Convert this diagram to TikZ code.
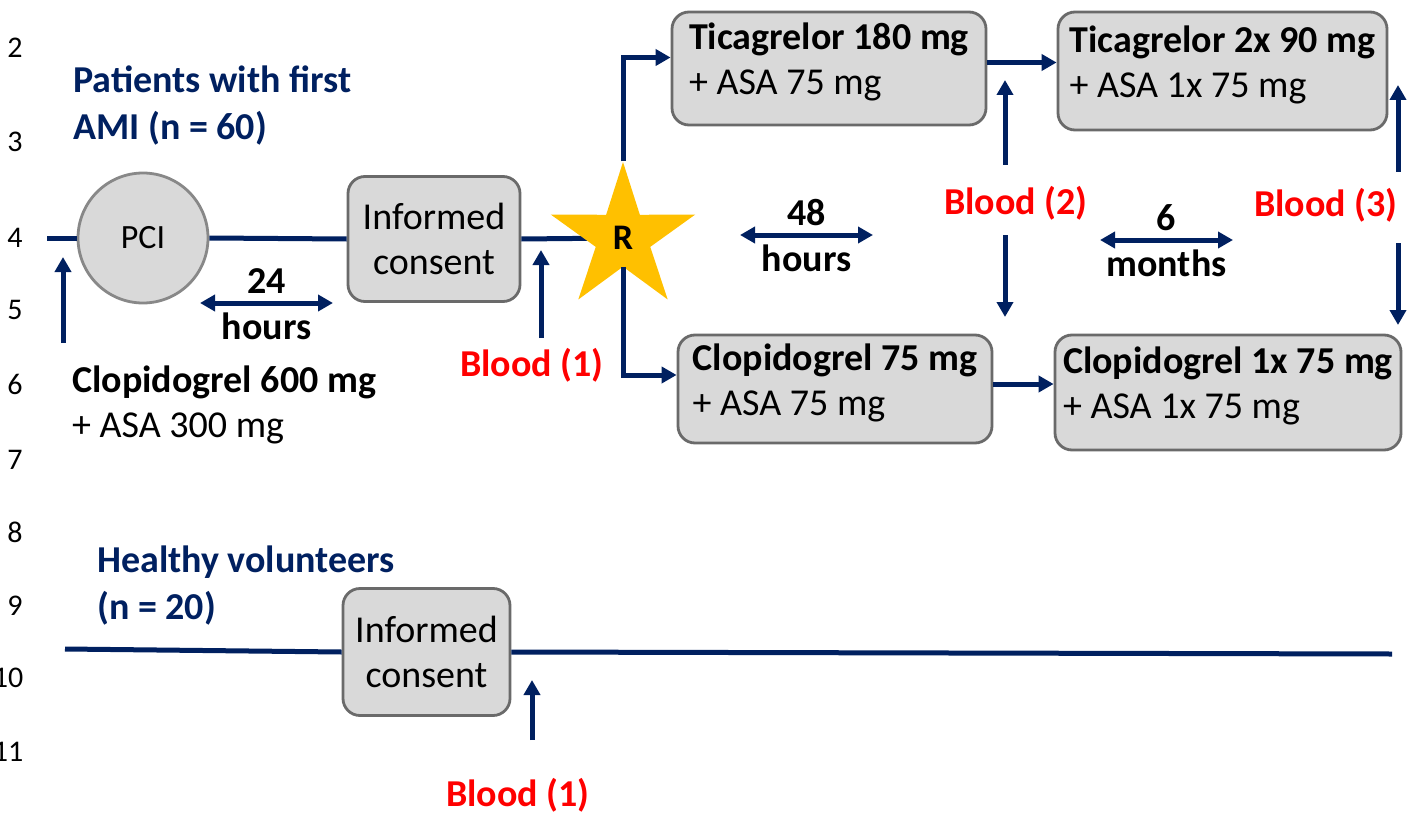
\documentclass[tikz,border=0pt]{standalone}
\usepackage{fontspec}
\setmainfont{Carlito}
\usetikzlibrary{arrows.meta,shapes.geometric,positioning}
\definecolor{NAVY}{HTML}{002060}
\definecolor{RED}{HTML}{FF0000}
\definecolor{BOX}{HTML}{D9D9D9}
\definecolor{EDGE}{HTML}{6A6A6A}
\definecolor{GOLD}{HTML}{FFC000}
\begin{document}
\begin{tikzpicture}[x=1pt,y=-1pt,font=\fontsize{38}{45}\selectfont]
\tikzset{flow/.style={line width=5pt,NAVY},
 arr/.style={flow,-{Triangle[length=15pt,width=16pt]}},
 dbl/.style={flow,{Triangle[length=15pt,width=16pt]}-{Triangle[length=15pt,width=16pt]}},
 box/.style={draw=EDGE,fill=BOX,line width=2.8pt,rounded corners=17pt,align=flush left,inner sep=0pt,text depth=19pt},
 consent/.style={draw=EDGE,fill=BOX,line width=2.8pt,rounded corners=17pt,align=flush center,inner sep=0pt},
 grp/.style={NAVY,font=\fontsize{38}{47}\selectfont\bfseries,align=flush left,anchor=west,inner sep=0pt},
 blood/.style={RED,font=\fontsize{38}{45}\selectfont\bfseries,inner sep=0pt},
 span/.style={text=black,font=\fontsize{38}{45}\selectfont\bfseries,inner sep=7pt},
 num/.style={font=\fontsize{30}{32}\selectfont,inner sep=0pt}}
\useasboundingbox (0,0) rectangle (1415,821);
\foreach \n/\x/\y in {2/15/48,3/15/142,4/15/238,5/15/310,6/15/384,7/15/460,8/15/532,9/15/606,10/8/678,11/8/752,12/8/832}
 {\node[num] (ln\n) at (\x,\y) {\n};}
% patients
\node[grp] (pat) at (73,106) {Patients with first\\AMI (n = 60)};
\node[circle,draw=EDGE!80,fill=BOX,line width=2.8pt,minimum size=130pt,inner sep=0pt,font=\fontsize{34}{40}\selectfont] (pci) at (143,238) {PCI};
\node[consent,minimum width=172pt,minimum height=125pt] (ic) at (434,239) {Informed\\consent};
\node[anchor=west,align=flush left,inner sep=0pt] (load) at (72,405) {\textbf{Clopidogrel 600 mg}\\+ ASA 300 mg};
\coordinate (s0) at (47,238);
\draw[flow] (s0) -- (pci.west);
\draw[flow] (pci.east) -- (ic.west);
\draw[flow] (ic.east) -- (623,238);
\node[star,star points=5,star point ratio=2.65,fill=GOLD,minimum size=152pt,inner sep=0pt,font=\fontsize{36}{40}\selectfont\bfseries] (rnd) at (623,238) {R};
\node[box,minimum width=314pt,minimum height=113pt] (t1) at (829,68.5) {\textbf{Ticagrelor 180 mg}\\+ ASA 75 mg};
\node[box,minimum width=329pt,minimum height=118pt] (t2) at (1222.5,71) {\textbf{Ticagrelor 2x 90 mg}\\+ ASA 1x 75 mg};
\node[box,minimum width=314pt,minimum height=108pt] (c1) at (835,389) {\textbf{Clopidogrel 75 mg}\\+ ASA 75 mg};
\node[box,minimum width=346pt,minimum height=115pt] (c2) at (1228,392.5) {\textbf{Clopidogrel 1x 75 mg}\\+ ASA 1x 75 mg};
\draw[arr] (rnd.north) |- ([yshift=11pt]t1.west);
\draw[arr] (rnd.south) |- ([yshift=14pt]c1.west);
\coordinate (a1) at ([yshift=6pt]t1.east);
\coordinate (a2) at ([yshift=5pt]c1.east);
\draw[arr] (a1) -- (a1 -| t2.west);
\draw[arr] (a2) -- (a2 -| c2.west);
\node[blood] (b1) at (532,365) {Blood (1)};
\node[blood] (b2) at (1016,203) {Blood (2)};
\node[blood] (b3) at (1326,205) {Blood (3)};
\node[blood] (b4) at (518,795) {Blood (1)};
\foreach \x/\ya/\yb [count=\i] in {63/343/257,541/338/250,1005/165/80,1005/235/317,1398/172/85,1398/243/325,532/740/680}
 {\coordinate (p\i) at (\x,\ya); \coordinate (q\i) at (\x,\yb); \draw[arr] (p\i) -- (q\i);}
\coordinate (d1) at (200,303); \coordinate (e1) at (333,303);
\coordinate (d2) at (740,235); \coordinate (e2) at (873,235);
\coordinate (d3) at (1100,240); \coordinate (e3) at (1233,240);
\draw[dbl] (d1) -- (e1) node[midway,above,span] (h24) {24} node[midway,below,span] (u24) {hours};
\draw[dbl] (d2) -- (e2) node[midway,above,span] (h48) {48} node[midway,below,span] (u48) {hours};
\draw[dbl] (d3) -- (e3) node[midway,above,span] (m6) {6} node[midway,below,span] (u6) {months};
% volunteers
\node[grp] (vol) at (97,586) {Healthy volunteers\\(n = 20)};
\node[consent,minimum width=167pt,minimum height=127pt] (ic2) at (426.5,652) {Informed\\consent};
\coordinate (h0) at (65,649);
\coordinate (h1) at (1392,654);
\draw[flow] (h0) -- (ic2.west);
\draw[flow] (ic2.east) -- (h1);
\end{tikzpicture}
\end{document}
